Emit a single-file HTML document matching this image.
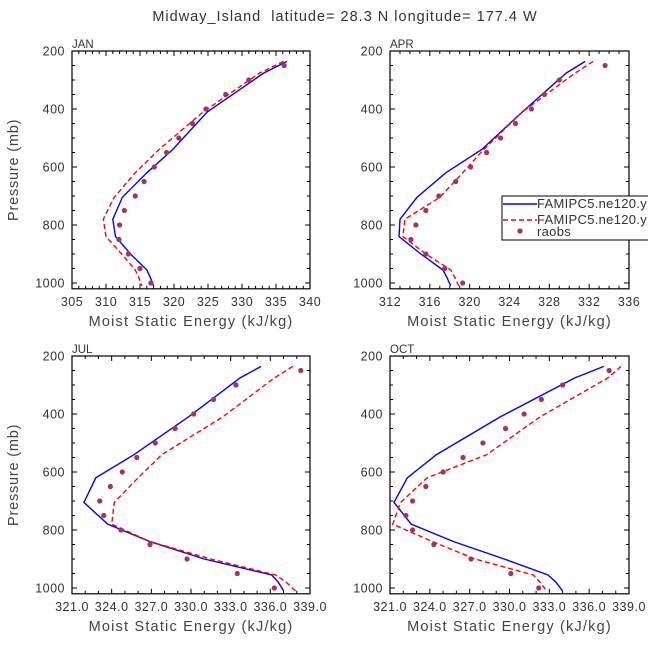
<!DOCTYPE html>
<html><head><meta charset="utf-8"><style>
body{margin:0;background:#fff;}
svg{display:block;font-family:"Liberation Sans",sans-serif;}
</style></head><body>
<svg id="chart" width="648" height="649">
<text x="345" y="21" text-anchor="middle" font-size="14.5" fill="#333" letter-spacing="1" style="white-space:pre">Midway_Island  latitude= 28.3 N longitude= 177.4 W</text>
</svg>
<script>
const modelLev = [236,276,410,540,620,705,780,840,900,955,980,1010];
const obsLev = [250,300,350,400,450,500,550,600,650,700,750,800,850,900,950,1000];
const janBlue = [336.6,333.2,324.9,319.8,316.0,312.4,311.0,311.4,313.6,316.0,316.5,317.0];
const janRed  = [336.1,332.6,324.3,317.8,314.3,311.2,309.6,310.0,312.3,314.3,314.8,315.3];
const janObs  = [336.2,331.0,327.6,324.7,322.7,320.7,318.9,317.1,315.6,314.3,312.7,312.0,311.9,313.3,315.0,316.6];
const aprBlue = [331.6,329.7,325.3,321.2,317.6,314.7,313.0,312.9,315.1,317.3,317.7,318.1];
const aprRed  = [332.4,330.6,325.3,321.4,319.3,317.0,313.5,313.3,315.6,318.1,318.5,318.9];
const aprObs  = [333.6,329.0,327.5,326.2,324.6,323.1,321.7,320.1,318.6,316.9,315.6,314.6,314.1,315.6,317.5,319.3];
const julBlue = [335.3,333.7,329.8,325.7,322.8,321.9,323.7,326.9,331.0,336.1,336.6,337.0];
const julRed  = [337.7,336.3,332.4,327.8,326.0,324.2,324.0,326.9,331.5,336.4,337.2,337.9];
const julObs  = [338.3,333.4,331.7,330.2,328.8,327.3,325.9,324.8,323.9,323.1,323.4,324.7,326.9,329.7,333.5,336.3];
const octBlue = [337.1,334.9,329.3,324.5,322.3,321.3,322.6,325.8,329.6,332.9,333.5,334.0];
const octRed  = [338.4,337.4,332.3,328.3,323.8,321.8,321.2,324.2,327.4,331.8,332.3,332.8];
const octObs  = [337.5,334.0,332.4,331.1,329.7,328.0,326.5,325.0,323.7,322.7,322.2,322.7,324.3,327.1,330.1,332.2];
const yTicks = [200,400,600,800,1000];
const janTicks = [305,310,315,320,325,330,335,340];
const aprTicks = [312,316,320,324,328,332,336];
const julTicks = [321,324,327,330,333,336,339];

const NS="http://www.w3.org/2000/svg";
const svg=document.getElementById('chart');
function mk(tag,attrs,parent){const e=document.createElementNS(NS,tag);for(const k in attrs)e.setAttribute(k,attrs[k]);(parent||svg).appendChild(e);return e;}

const panels=[
 {name:'jan',label:'JAN',x0:72,x1:310,y0:51,xmin:305,xmax:340,ticks:janTicks,dec:0,blue:janBlue,red:janRed,obs:janObs,ylab:true},
 {name:'apr',label:'APR',x0:390,x1:629,y0:51,xmin:312,xmax:336,ticks:aprTicks,dec:0,blue:aprBlue,red:aprRed,obs:aprObs,ylab:false},
 {name:'jul',label:'JUL',x0:72,x1:310,y0:356,xmin:321,xmax:339,ticks:julTicks,dec:1,blue:julBlue,red:julRed,obs:julObs,ylab:true},
 {name:'oct',label:'OCT',x0:390,x1:629,y0:356,xmin:321,xmax:339,ticks:julTicks,dec:1,blue:octBlue,red:octRed,obs:octObs,ylab:false}
];
panels.forEach(P=>{
 const g=mk('g',{});
 
 
 const sx=v=>P.x0+(v-P.xmin)/(P.xmax-P.xmin)*(P.x1-P.x0);
 const sy=p=>P.y0+(p-200)*0.29;
 const yb=sy(1020);
 for(let p=200;p<=1000;p+=50){const maj=p%200===0;const L=maj?5:3;
  mk('line',{x1:P.x0,x2:P.x0+L,y1:sy(p),y2:sy(p),stroke:'#000','stroke-width':1},g);
  mk('line',{x1:P.x1,x2:P.x1-L,y1:sy(p),y2:sy(p),stroke:'#000','stroke-width':1},g);}
 for(let v=P.xmin;v<=P.xmax+1e-6;v+=1){const maj=P.ticks.some(t=>Math.abs(t-v)<1e-6);const L=maj?5:3;
  mk('line',{x1:sx(v),x2:sx(v),y1:yb,y2:yb-L,stroke:'#000','stroke-width':1},g);
  mk('line',{x1:sx(v),x2:sx(v),y1:P.y0,y2:P.y0+L,stroke:'#000','stroke-width':1},g);}
 mk('rect',{x:P.x0,y:P.y0,width:P.x1-P.x0,height:yb-P.y0,fill:'none',stroke:'#000','stroke-width':1.2},g);
 yTicks.forEach(p=>{const t=mk('text',{x:P.x0-7,y:sy(p)+4.5,'text-anchor':'end','font-size':12.5,fill:'#333','letter-spacing':'0.5'},g);t.textContent=p;
  
  });
 P.ticks.forEach(v=>{const t=mk('text',{x:sx(v),y:yb+17,'text-anchor':'middle','font-size':12.5,fill:'#333','letter-spacing':'0.5'},g);t.textContent=v.toFixed(P.dec);
  
  });
 const pl=mk('text',{x:P.x0,y:P.y0-3,'font-size':11.5,fill:'#333'},g);pl.textContent=P.label;
 
 
 const xl=mk('text',{x:(P.x0+P.x1)/2,y:yb+37,'text-anchor':'middle','font-size':14.5,fill:'#444','letter-spacing':'1.2'},g);xl.textContent='Moist Static Energy (kJ/kg)';
 
 
 if(P.ylab){const cy=(P.y0+yb)/2;const yl=mk('text',{x:18,y:cy,'text-anchor':'middle','font-size':14.5,fill:'#444','letter-spacing':'0.8',transform:`rotate(-90 18 ${cy})`},g);yl.textContent='Pressure (mb)';
  
  }
 const pts=a=>a.map((v,i)=>sx(v).toFixed(1)+','+sy(modelLev[i]).toFixed(1)).join(' ');
 const b=mk('polyline',{points:pts(P.blue),fill:'none',stroke:'#0000ff','stroke-width':1.4},g);
 
 
 const r=mk('polyline',{points:pts(P.red),fill:'none',stroke:'#ff0000','stroke-width':1.4,'stroke-dasharray':'5,3'},g);
 
 
 P.obs.forEach((v,i)=>{const c=mk('circle',{cx:sx(v),cy:sy(obsLev[i]),r:2.6,fill:'#a8325e'},g);
  
  });
});
const lg=mk('g',{});


mk('rect',{x:502,y:196,width:150,height:44,fill:'#fff',stroke:'#000','stroke-width':1},lg);
mk('line',{x1:503,x2:537,y1:204,y2:204,stroke:'#0000ff','stroke-width':1.4},lg);
mk('line',{x1:503,x2:537,y1:220,y2:220,stroke:'#ff0000','stroke-width':1.4,'stroke-dasharray':'5,3'},lg);
mk('circle',{cx:520,cy:231,r:2.6,fill:'#a8325e'},lg);
[['FAMIPC5.ne120.y',208],['FAMIPC5.ne120.y',224],['raobs',236]].forEach(([s,y])=>{const t=mk('text',{x:537,y:y,'font-size':13,fill:'#333','letter-spacing':'0.3'},lg);t.textContent=s;
 
 });
</script>
</body></html>
